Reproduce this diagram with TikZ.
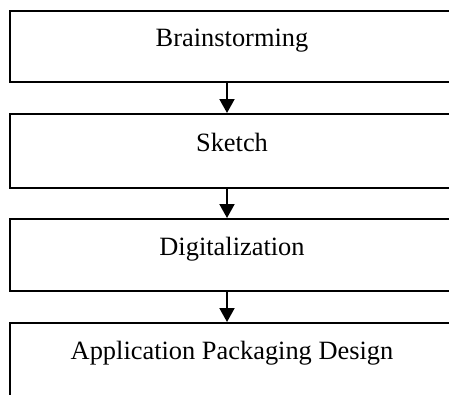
\documentclass[tikz,border=0pt]{standalone}
\usepackage{fontspec}
\setmainfont{Liberation Serif}
\usetikzlibrary{arrows.meta}
\begin{document}
\begin{tikzpicture}[x=1pt,y=-1pt,
  stepbox/.style={draw, line width=2pt, rectangle, anchor=north west,
    minimum width=444pt, inner xsep=0pt, inner ysep=0pt, text height=36pt,
    font=\fontsize{26.4}{30}\selectfont},
  flow/.style={-{Triangle[length=14pt,width=15pt]}, line width=2pt}]
\useasboundingbox (0,0) rectangle (449,394);
\clip (0,0) rectangle (449,394);
\node[stepbox, text height=35.5pt, text depth=36pt] (b1) at (9,9.5) {Brainstorming};
\node[stepbox, text height=37pt, text depth=37pt] (b2) at (9,113) {Sketch};
\node[stepbox, text depth=36pt] (b3) at (9,218) {Digitalization};
\node[stepbox, text depth=60pt] (b4) at (9,322) {Application Packaging Design};
\coordinate (ax) at (227,0);
\draw[flow] (b1.south -| ax) -- (b2.north -| ax);
\draw[flow] (b2.south -| ax) -- (b3.north -| ax);
\draw[flow] (b3.south -| ax) -- (b4.north -| ax);
\end{tikzpicture}
\end{document}
